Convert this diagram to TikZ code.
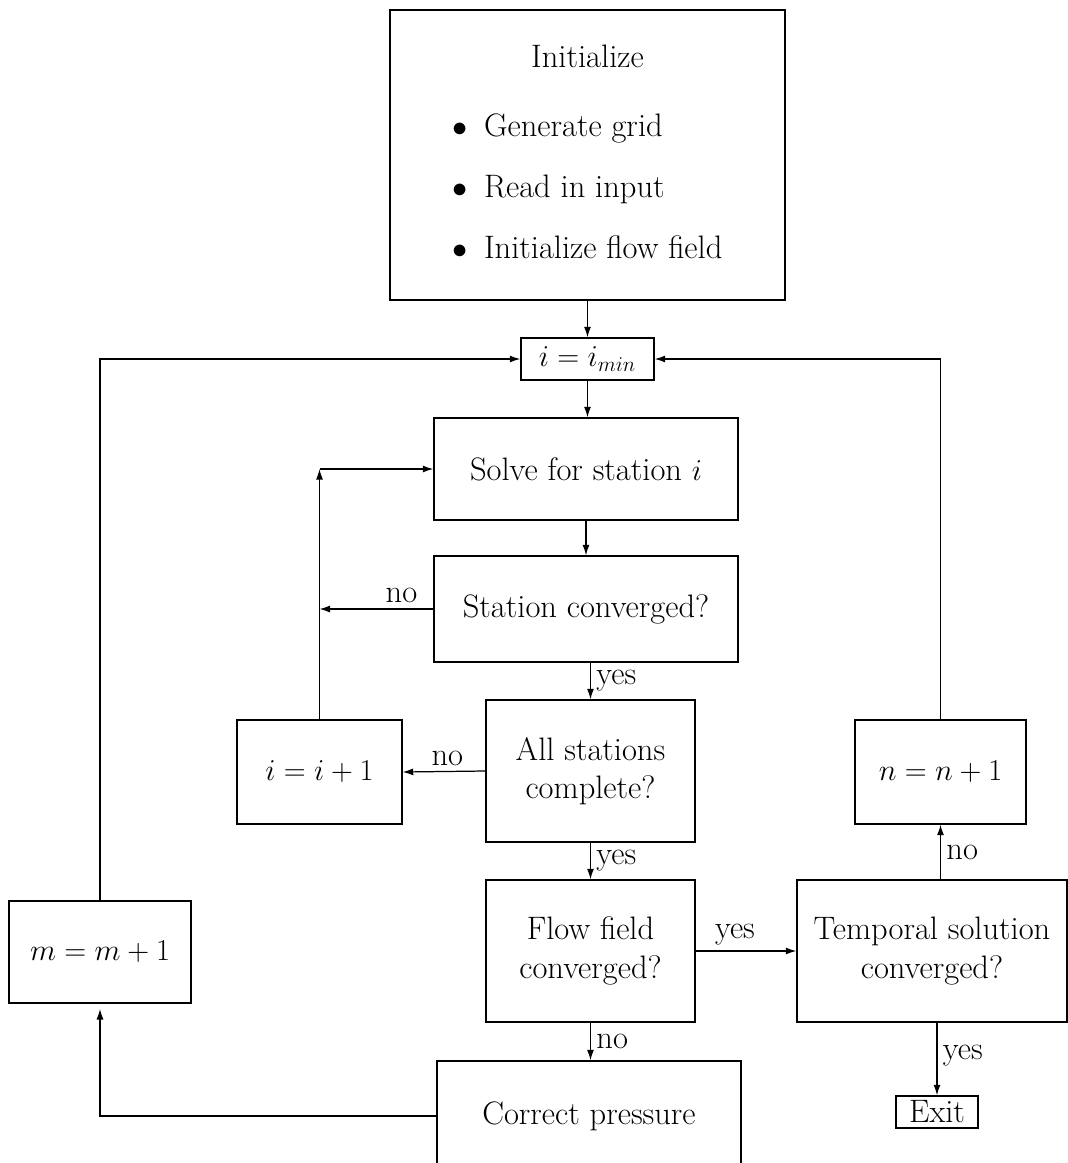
\documentclass[tikz,border=0pt]{standalone}
\usepackage{amsmath}
\usetikzlibrary{arrows.meta}

\begin{document}
\begin{tikzpicture}[x=0.02cm, y=-0.02cm, font=\fontsize{18.5}{22}\selectfont,
  box/.style={draw, line width=0.8pt, align=center, inner sep=2pt},
  arr/.style={line width=0.7pt, -{Latex[length=6pt,width=4pt]}},
  lbl/.style={inner sep=3pt}]
  \useasboundingbox (0,0) rectangle (1068,1163);
  \node[box, minimum width=7.9cm, minimum height=5.8cm] (init) at (587.5,155) {%
    \begin{tabular}{@{}l@{}}
      \multicolumn{1}{@{}c@{}}{Initialize}\\[17.5pt]
      $\bullet$\hspace{0.5em}Generate grid\\[12.5pt]
      $\bullet$\hspace{0.5em}Read in input\\[12.5pt]
      $\bullet$\hspace{0.5em}Initialize flow field
    \end{tabular}};
  \node[box, minimum width=2.66cm, minimum height=0.84cm] (imin) at (587.5,359) {$i = i_{min}$};
  \node[box, minimum width=6.08cm, minimum height=2.04cm] (solve) at (586,469) {Solve for station $i$};
  \node[box, minimum width=6.08cm, minimum height=2.12cm] (station) at (586,609) {Station converged?};
  \node[box, minimum width=4.18cm, minimum height=2.84cm] (allst) at (590.5,771) {All stations\\complete?};
  \node[box, minimum width=3.3cm, minimum height=2.08cm] (inci) at (319.5,772) {$i = i+1$};
  \node[box, minimum width=4.18cm, minimum height=2.84cm] (flow) at (590.5,951) {Flow field\\converged?};
  \node[box, minimum width=5.4cm, minimum height=2.84cm] (temporal) at (932,951) {Temporal solution\\converged?};
  \node[box, minimum width=3.42cm, minimum height=2.08cm] (incn) at (940.5,772) {$n = n+1$};
  \node[box, minimum width=1.64cm, minimum height=0.64cm] (exit) at (937,1112) {Exit};
  \node[box, minimum width=6.08cm, minimum height=2.2cm] (correct) at (589,1116) {Correct pressure};
  \node[box, minimum width=3.64cm, minimum height=2.04cm] (incm) at (100,952) {$m = m+1$};

  \draw[arr] (init.south) -- (init.south |- imin.north);
  \draw[arr] (imin.south) -- (imin.south |- solve.north);
  \draw[arr] (solve.south) -- (solve.south |- station.north);
  \draw[arr] (station.west) -- node[lbl, above, pos=0.28] {no} (station.west -| inci);
  \draw[arr] (inci.north) -- (inci.north |- solve.west);
  \draw[arr] (inci.north |- solve.west) -- (solve.west);
  \draw[arr] (station.south -| allst) -- node[lbl, right] {yes} (allst.north);
  \draw[arr] (allst.west) -- node[lbl, above, pos=0.46] {no} (inci.east);
  \draw[arr] (allst.south) -- node[lbl, right] {yes} (flow.north);
  \draw[arr] (flow.east) -- node[lbl, above, pos=0.39] {yes} (temporal.west);
  \draw[arr] (temporal.north -| incn) -- node[lbl, right] {no} (incn.south);
  \draw[arr] (incn.north) |- (imin.east);
  \draw[arr] (temporal.south -| exit) -- node[lbl, right, pos=0.45] {yes} (exit.north);
  \draw[arr] (flow.south) -- node[lbl, right] {no} (flow.south |- correct.north);
  \draw[arr, shorten >=3pt] (correct.west) -| (incm.south);
  \draw[arr] (incm.north) |- (imin.west);
\end{tikzpicture}
\end{document}
